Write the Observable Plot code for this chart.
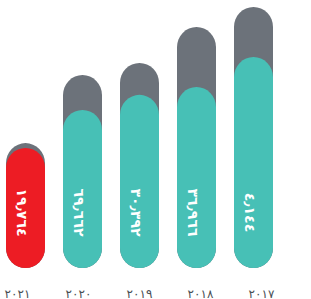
<!DOCTYPE html>
<html><head><meta charset="utf-8">
<script src="https://cdn.jsdelivr.net/npm/d3@7"></script>
<script src="https://cdn.jsdelivr.net/npm/@observablehq/plot@0.6"></script>
<style>
html,body{margin:0;padding:0;background:#fff;}
svg{display:block;}
</style>
</head><body>
<div id="chart"></div>
<script>
// Data (RTL order, left to right)
const years  = ["٢٠٢١", "٢٠٢٠", "٢٠١٩", "٢٠١٨", "٢٠١٧"];
const totals = [46.6, 72.0, 76.5, 89.9, 97.4];   // grey (full bar)
const parts  = [44.8, 59.0, 64.6, 67.5, 78.7];   // coloured part
const labels = ["١٩٫٧٦٤", "٦٩٫٦٦٢", "٣٠٫٣٩٢", "٣٦٫٩٦٦", "٤٫١٤٤"];
const highlightYear = "٢٠٢١";

const data = years.map((year, i) => ({year, total: totals[i], part: parts[i], label: labels[i]}));

const GREY = "#6c727a", TEAL = "#47c0b6", RED = "#ed1c24";
const FONT = "'DejaVu Sans', sans-serif";

const bars = Plot.plot({
  width: 311,
  height: 272,
  marginTop: 0,
  marginBottom: 4,
  marginLeft: 4,
  marginRight: 35,
  style: {fontFamily: FONT, background: "transparent"},
  x: {domain: years, paddingInner: 0.31, paddingOuter: 0, axis: null},
  y: {domain: [0, 100], axis: null},
  marks: [
    Plot.barY(data, {x: "year", y: "total", fill: GREY, rx: 20}),
    Plot.barY(data, {x: "year", y: "part", fill: d => d.year === highlightYear ? RED : TEAL, rx: 20}),
    Plot.text(data, {
      x: "year", y: 0, text: "label", rotate: 90,
      dx: -5, dy: -56,
      fill: "white", fontSize: 14, fontWeight: 600,
      textAnchor: "middle", lineAnchor: "middle"
    })
  ]
});

const axis = Plot.plot({
  width: 311,
  height: 27,
  marginTop: 0,
  marginBottom: 2,
  marginLeft: 15,
  marginRight: 49,
  style: {fontFamily: FONT, background: "transparent"},
  x: {type: "point", domain: years, padding: 0, axis: null},
  marks: [
    Plot.text(years, {x: d => d, text: d => d, frameAnchor: "bottom", lineAnchor: "bottom",
      fill: "#4a4f55", fontSize: 12})
  ]
});

const el = document.getElementById("chart");
el.appendChild(bars);
el.appendChild(axis);
</script>
</body></html>
